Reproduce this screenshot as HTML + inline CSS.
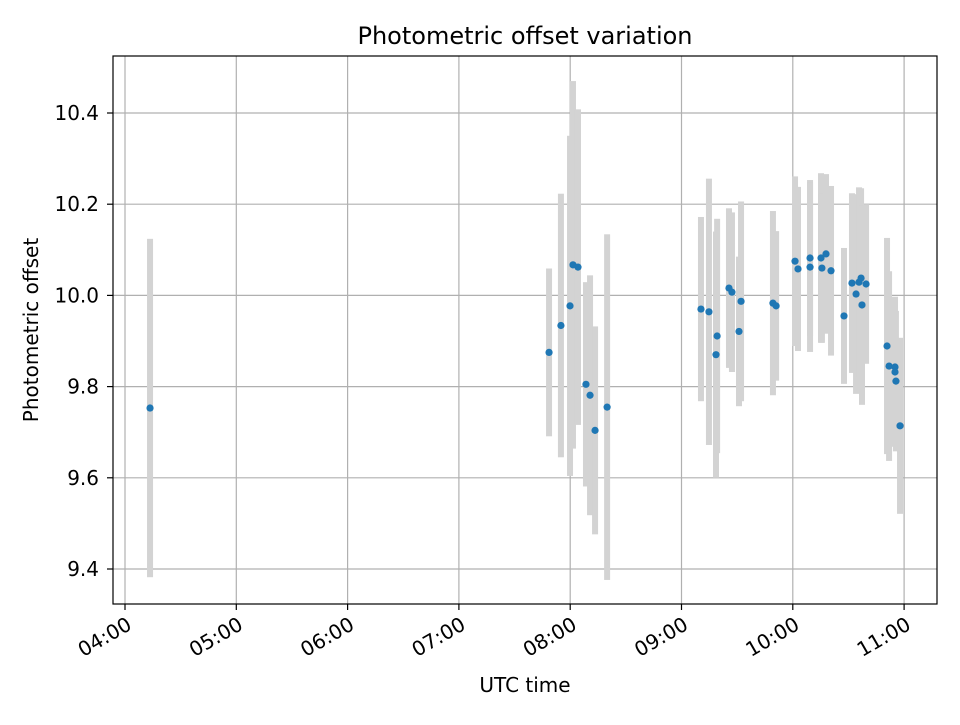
<!DOCTYPE html>
<html><head><meta charset="utf-8"><style>
body{margin:0;background:#fff}
svg text{font-family:"DejaVu Sans","Liberation Sans",sans-serif;fill:#000}
</style></head><body>
<svg id="chart" width="960" height="720" viewBox="0 0 960 720" xmlns="http://www.w3.org/2000/svg">
<rect width="960" height="720" fill="#fff"/>
<g id="grid"></g><g id="bars"></g><g id="dots"></g><g id="axes"></g>
</svg>
<script>
// minutes after 04:00 UTC
const times=[13.5,228.6,235.0,239.9,241.5,244.2,248.5,250.7,253.4,259.9,310.5,314.8,319.2,318.6,325.6,327.2,332.1,331.0,349.3,351.0,361.2,362.8,369.3,369.3,375.2,375.7,377.9,380.6,387.6,391.9,394.1,395.7,396.8,397.3,399.5,410.8,411.9,415.1,415.1,415.6,417.8];
const values=[9.753,9.875,9.934,9.977,10.067,10.062,9.805,9.781,9.704,9.755,9.970,9.964,9.911,9.870,10.016,10.007,9.987,9.921,9.983,9.977,10.075,10.058,10.082,10.062,10.082,10.060,10.091,10.054,9.955,10.027,10.003,10.029,10.038,9.979,10.025,9.889,9.845,9.843,9.832,9.812,9.714];
const errors=[0.371,0.184,0.289,0.373,0.403,0.346,0.224,0.263,0.228,0.379,0.202,0.292,0.257,0.270,0.175,0.175,0.219,0.164,0.202,0.164,0.186,0.180,0.171,0.186,0.186,0.164,0.175,0.186,0.149,0.197,0.219,0.208,0.197,0.219,0.175,0.237,0.208,0.154,0.164,0.154,0.193];
const xTickLabels=["04:00","05:00","06:00","07:00","08:00","09:00","10:00","11:00"];
const yTicks=[9.4,9.6,9.8,10.0,10.2,10.4];
const L=113,R=937,T=56,B=604;
const xs=m=>125+m*(111.3/60);
const ys=v=>113+(10.4-v)*456;
const NS="http://www.w3.org/2000/svg";
function mk(p,tag,at){const e=document.createElementNS(NS,tag);for(const k in at)e.setAttribute(k,at[k]);p.appendChild(e);return e;}
const grid=document.getElementById('grid'),bars=document.getElementById('bars'),dots=document.getElementById('dots'),axes=document.getElementById('axes');
xTickLabels.forEach((lab,i)=>{const x=xs(i*60);
 const g=mk(grid,'line',{x1:x,x2:x,y1:T,y2:B,stroke:'#b0b0b0','stroke-width':1.2});
 
 mk(axes,'line',{x1:x,x2:x,y1:B,y2:B+6,stroke:'#000','stroke-width':1.2});
 const t=mk(axes,'text',{x:x+2,y:B+26,'font-size':20,'text-anchor':'end',transform:`rotate(-30 ${x+2} ${B+14})`});
 t.textContent=lab;
});
yTicks.forEach(v=>{const y=ys(v);
 const g=mk(grid,'line',{x1:L,x2:R,y1:y,y2:y,stroke:'#b0b0b0','stroke-width':1.2});
 
 mk(axes,'line',{x1:L-6,x2:L,y1:y,y2:y,stroke:'#000','stroke-width':1.2});
 const t=mk(axes,'text',{x:L-14,y:y+7,'font-size':20,'text-anchor':'end'});
 t.textContent=v.toFixed(1);
});
times.forEach((m,i)=>{const x=xs(m);
 const b=mk(bars,'rect',{x:x-3,width:6,y:ys(values[i]+errors[i]),height:errors[i]*2*456,fill:'#d3d3d3'});
 
});
times.forEach((m,i)=>{
 const c=mk(dots,'circle',{cx:xs(m),cy:ys(values[i]),r:3.6,fill:'#1f77b4'});
 
});
const fr=mk(axes,'rect',{x:L,y:T,width:R-L,height:B-T,fill:'none',stroke:'#000','stroke-width':1.2});

let t=mk(axes,'text',{x:525,y:44,'font-size':24,'text-anchor':'middle'});t.textContent='Photometric offset variation';

t=mk(axes,'text',{x:525,y:692,'font-size':20,'text-anchor':'middle'});t.textContent='UTC time';

t=mk(axes,'text',{x:38,y:330,'font-size':20,'text-anchor':'middle',transform:'rotate(-90 38 330)'});t.textContent='Photometric offset';

</script>
</body></html>
